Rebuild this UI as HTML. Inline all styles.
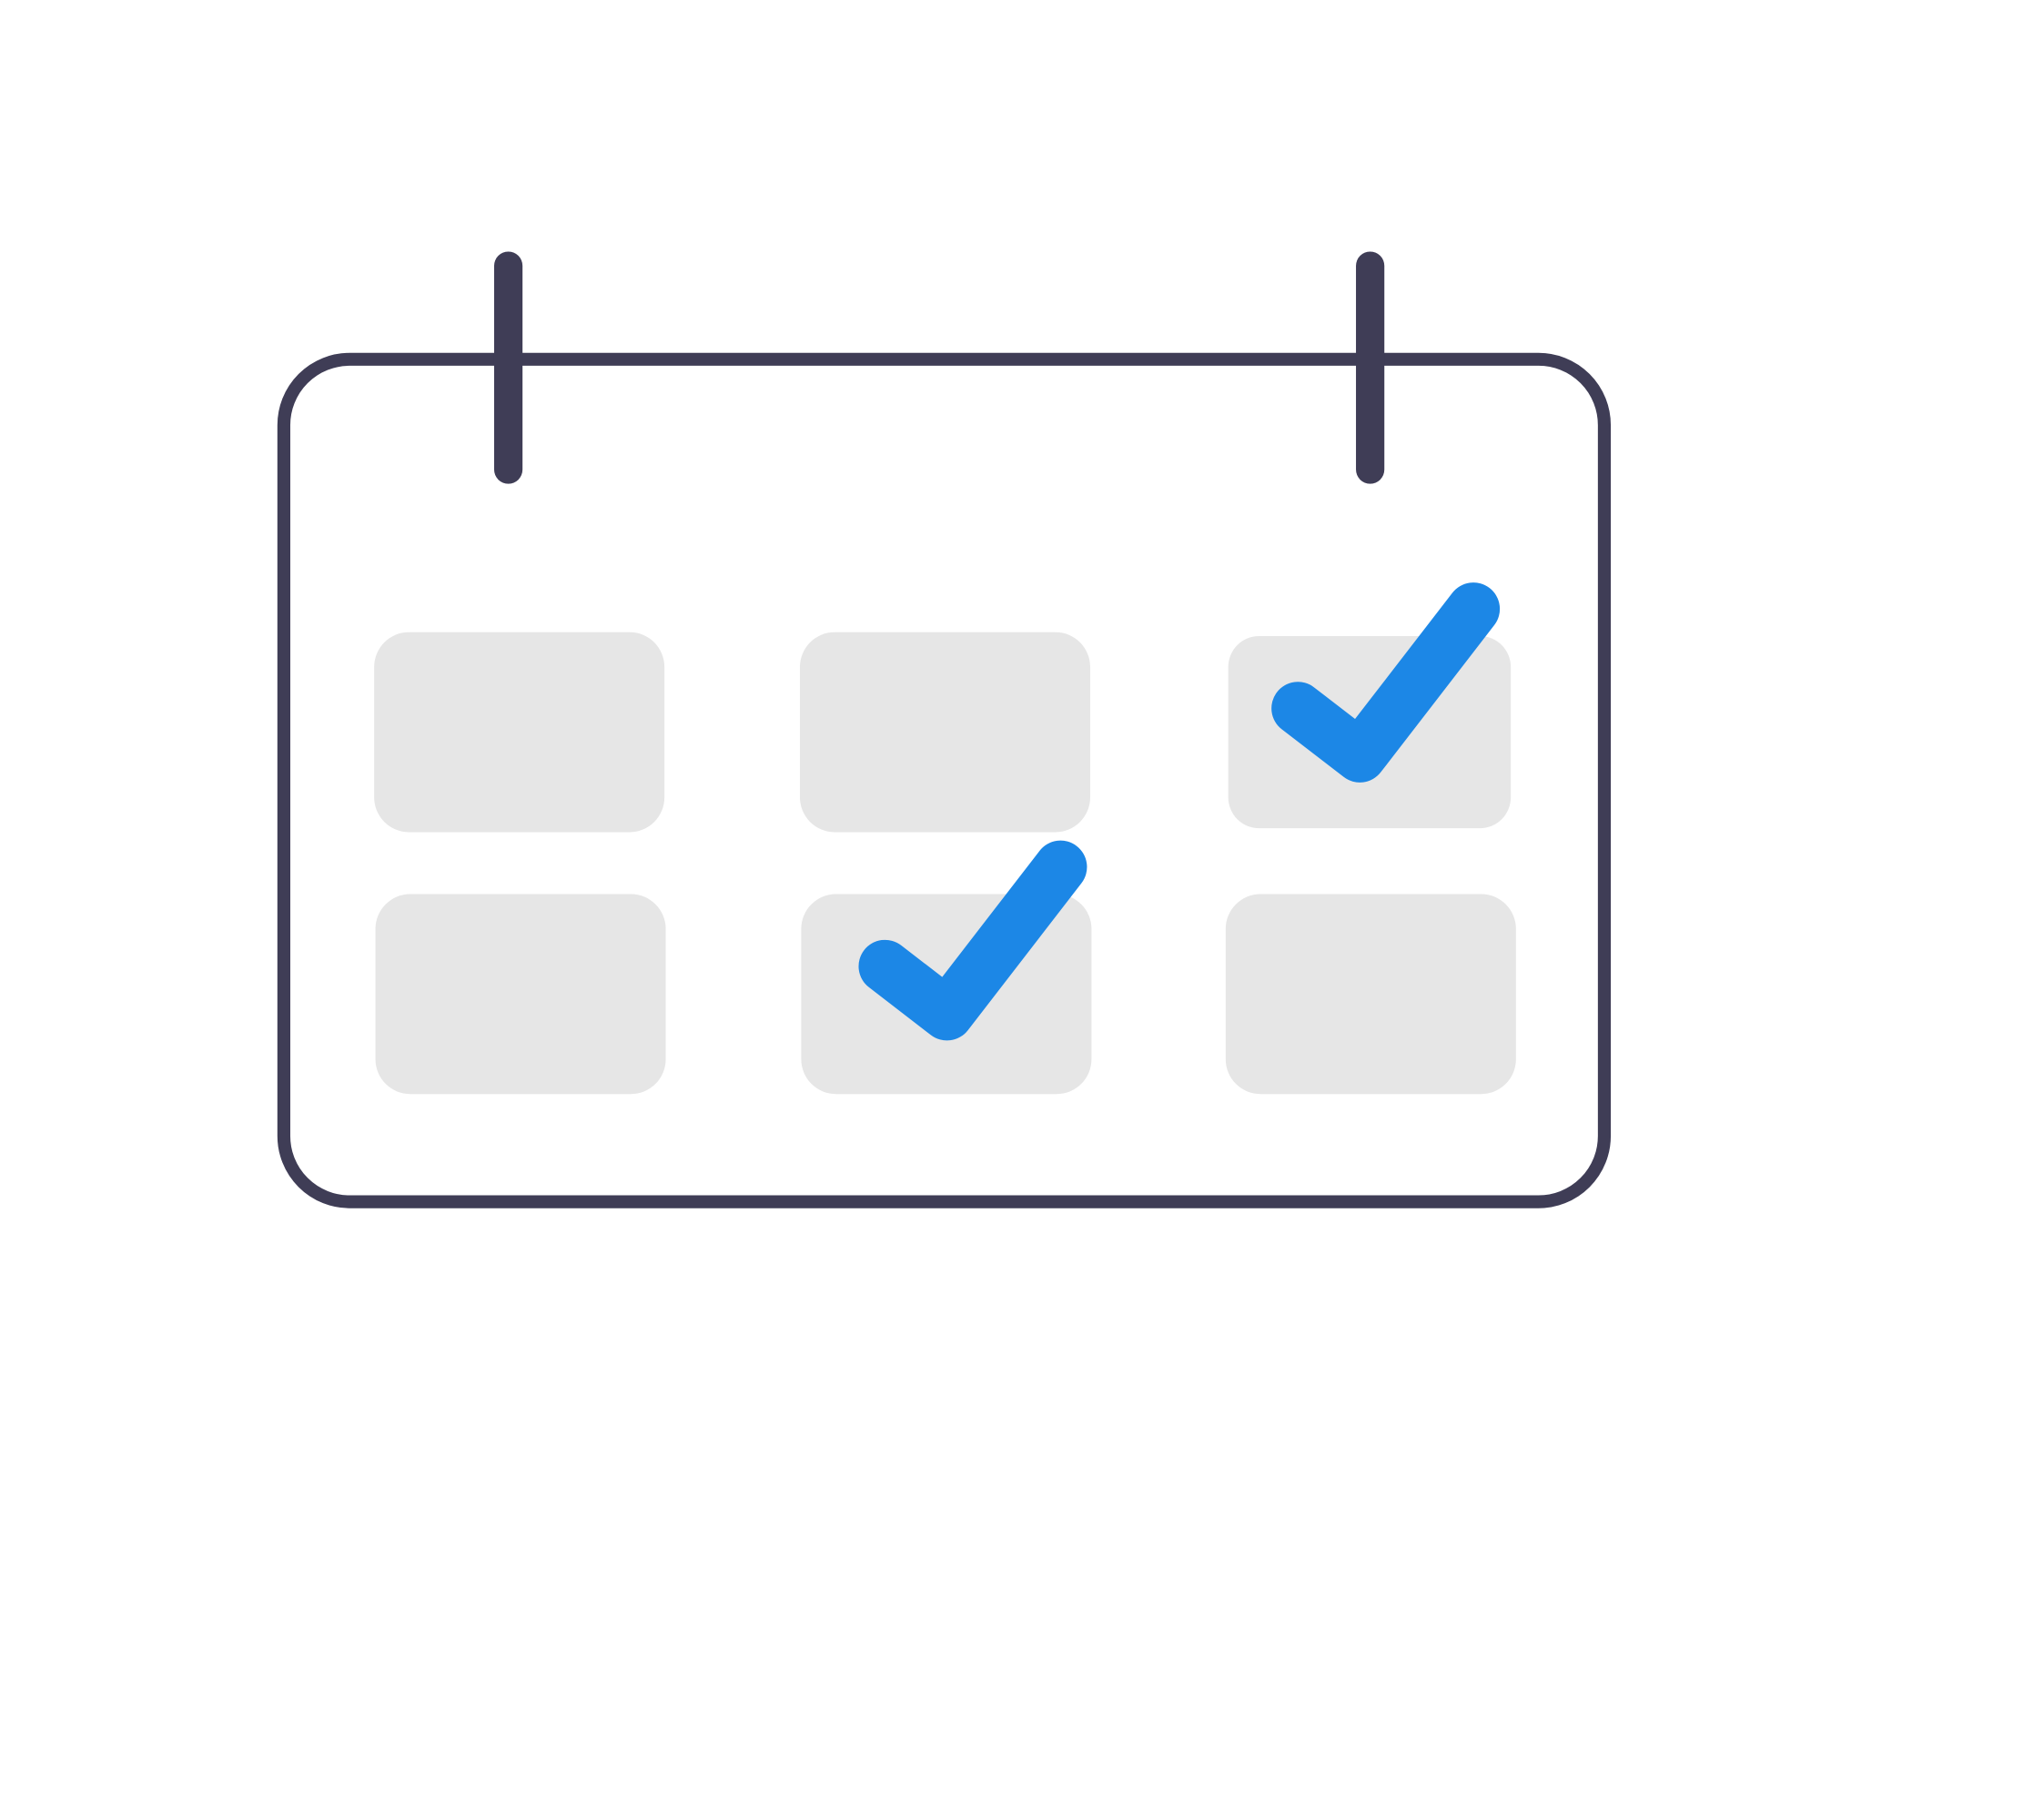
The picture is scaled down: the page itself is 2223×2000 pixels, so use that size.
<!DOCTYPE html>
<html><head><meta charset="utf-8"><style>
html,body{margin:0;padding:0;background:#fff;width:2223px;height:2000px;overflow:hidden}
svg{display:block}
</style></head><body>
<svg width="2223" height="2000" viewBox="0 0 1568 1410.7" preserveAspectRatio="none" xmlns="http://www.w3.org/2000/svg">
<rect x="220" y="278.5" width="1023.5" height="653" rx="51" fill="none" stroke="#3f3d56" stroke-width="10"/>
<g fill="#e6e6e6">
<rect x="290" y="490" width="225" height="155" rx="27"/>
<rect x="620" y="490" width="225" height="155" rx="27"/>
<rect x="952" y="493" width="219" height="149" rx="24"/>
<rect x="291" y="693" width="225" height="155" rx="27"/>
<rect x="621" y="693" width="225" height="155" rx="27"/>
<rect x="950" y="693" width="225" height="155" rx="27"/>
</g>
<g stroke="#3f3d56" stroke-width="22" stroke-linecap="round">
<line x1="394" y1="206" x2="394" y2="364"/>
<line x1="1062" y1="206" x2="1062" y2="364"/>
</g>
<g fill="none" stroke="#1c87e6" stroke-width="41" stroke-linecap="round" stroke-linejoin="round">
<polyline points="1006,549 1054,586 1142,472"/>
<polyline points="686,749 734,786 822,672"/>
</g>
</svg>
</body></html>
